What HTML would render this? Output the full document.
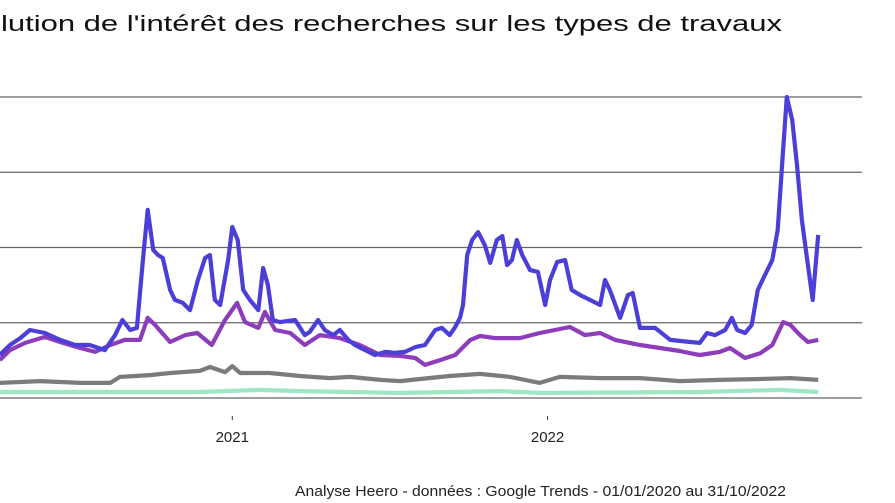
<!DOCTYPE html>
<html><head><meta charset="utf-8">
<style>
html,body{margin:0;padding:0;background:#fff;}
svg{display:block;font-family:"Liberation Sans",Arial,sans-serif;}
</style></head>
<body>
<svg id="chart" width="895" height="503" viewBox="0 0 895 503">
  <rect width="895" height="503" fill="#fff"/>
  <text x="1" y="31" font-size="22" fill="#111" textLength="781" lengthAdjust="spacingAndGlyphs">lution de l'intérêt des recherches sur les types de travaux</text>
  <g id="grid"></g>
  <g id="xaxis"></g>
  <g id="series"></g>
  <text x="295" y="496" font-size="15" fill="#222" textLength="491" lengthAdjust="spacingAndGlyphs">Analyse Heero - données :  Google Trends - 01/01/2020 au 31/10/2022</text>
</svg>
<script>
// weeks since 2020-01-01, values 0-100
const blueWeeks = [13.7,15.4,17.1,18.7,21.2,23.7,26.2,28.6,31.1,32.8,34,35.3,36.4,37.4,38.2,39.1,39.9,40.7,41.9,42.7,44,45.2,46.5,47.7,48.5,49.3,50.2,51.5,52.2,53.1,54,55.1,56.5,57.3,58.1,58.9,60.1,62.6,64.2,65,66.4,67.5,68.9,70,71.4,72.5,74.2,75.8,77.5,79.1,80.8,82.5,84.1,85.8,86.9,88.2,89.1,89.9,90.4,91.1,91.9,92.9,94,94.9,96,96.9,97.7,98.5,99.3,100.2,101.5,102.8,104,104.8,106,107.3,108.4,109.8,111.4,113.1,113.9,114.7,116.4,117.7,118.5,119.7,122.2,124.7,128,129.6,130.8,132.1,133.8,134.9,135.8,137.1,138.2,139.2,140.4,141.6,142.5,143.4,144,144.9,145.7,146.5,147.5,148.3,149.2];
const blueValues = [14.3,17.6,19.9,22.6,21.6,19.3,17.6,17.6,15.9,20.9,25.9,22.6,23.3,45.8,62.5,49.2,47.5,46.5,35.9,32.6,31.6,29.2,39.2,46.5,47.5,32.6,30.9,45.8,56.8,52.5,35.9,32.6,29.2,43.2,37.5,25.9,25.2,25.9,20.9,21.9,25.9,22.6,20.9,22.6,19.3,17.6,15.9,14.3,15.3,15,15.3,16.9,17.6,22.6,23.3,20.9,23.6,26.6,30.9,47.5,52.5,55.1,50.8,44.9,52.5,53.8,44.2,45.8,52.5,47.5,42.5,41.9,30.9,39.2,45.2,45.8,35.9,34.2,32.6,30.9,39.2,35.9,26.6,34.2,34.9,23.3,23.3,19.3,18.6,18.3,21.6,20.9,22.6,26.6,22.6,21.6,24.3,35.9,40.9,45.8,55.8,82.4,100,92.4,77.4,59.1,44.2,32.6,54.2];
const purpleWeeks = [13.7,15.4,17.9,21.2,23.7,27,29.5,32,34.4,36.9,38.2,39.4,41.9,44.4,46.4,48.8,51,53,54.3,56.5,57.6,59.3,61.8,64.2,66.7,70,73.3,76.7,80,82.5,84.1,86.6,89.1,91.6,93.2,95.7,99.8,103.1,105.6,108.1,110.6,113.1,115.6,119.7,123,126.3,128,129.6,132.9,134.6,137.1,139.6,141.6,143.4,144.6,146.2,147.5,149.2];
const purpleValues = [12.6,15.9,18.3,20.3,18.6,16.6,15.3,17.6,19.3,19.3,26.6,24.3,18.6,20.9,21.6,17.6,25.9,31.6,25.2,23.3,28.6,22.6,21.6,17.6,20.9,19.9,17.6,14.3,14,13.3,11,12.6,14.3,19.3,20.6,19.9,19.9,21.6,22.6,23.6,20.9,21.6,19.3,17.6,16.6,15.6,14.9,14.3,15.3,16.6,13.3,14.9,17.6,25.2,24.3,20.9,18.6,19.3];
const grayWeeks = [13.7,20.4,27,32,33.6,38.6,41.9,46.8,48.5,51,52.2,53.5,58.4,63.4,68.4,71.7,76.7,80,83.3,88.2,93.2,98.2,103.1,106.4,113.1,119.7,126.3,132.9,139.6,144.6,149.2];
const grayValues = [5,5.6,5,5,7,7.6,8.3,9,10.3,8.6,10.6,8.3,8.3,7.3,6.6,7,6,5.6,6.3,7.3,8,7,5,7,6.6,6.6,5.6,6,6.3,6.6,6];
const greenWeeks = [13.7,46.8,56.8,63.4,80,96.5,103.1,129.6,142.8,149.2];
const greenValues = [2,2,2.7,2.3,1.7,2.3,1.7,2,2.7,2];
const yTicks = [0,25,50,75,100];
const xTickWeeks = [52.2,104.4];
const xTickLabels = ["2021","2022"];

const NS="http://www.w3.org/2000/svg";
const X0=-83, XW=6.04, Y0=398, YK=3.01, XR=862;
function xs(w){return X0+w*XW;}
function ys(v){return Y0-v*YK;}
const grid=document.getElementById('grid');
yTicks.forEach(t=>{
  const l=document.createElementNS(NS,'line');
  
  
  l.setAttribute('x1',0);l.setAttribute('x2',XR);
  l.setAttribute('y1',ys(t));l.setAttribute('y2',ys(t));
  l.setAttribute('stroke','#666');l.setAttribute('stroke-width','1.3');
  grid.appendChild(l);
});
const xa=document.getElementById('xaxis');
xTickWeeks.forEach((w,i)=>{
  const t=document.createElementNS(NS,'line');
  
  
  t.setAttribute('x1',xs(w));t.setAttribute('x2',xs(w));
  t.setAttribute('y1',Y0+18);t.setAttribute('y2',Y0+22);
  t.setAttribute('stroke','#333');t.setAttribute('stroke-width','1');
  xa.appendChild(t);
  const tx=document.createElementNS(NS,'text');
  
  
  tx.setAttribute('x',xs(w));tx.setAttribute('y',Y0+44);
  tx.setAttribute('text-anchor','middle');tx.setAttribute('font-size','15');
  tx.setAttribute('fill','#222');
  tx.textContent=xTickLabels[i];
  xa.appendChild(tx);
});
const sg=document.getElementById('series');
function drawLine(weeks,vals,color,name){
  const p=document.createElementNS(NS,'path');
  
  
  p.setAttribute('d',weeks.map((w,i)=>(i?'L':'M')+xs(w).toFixed(1)+','+ys(vals[i]).toFixed(1)).join(' '));
  p.setAttribute('fill','none');p.setAttribute('stroke',color);
  p.setAttribute('stroke-width','4.2');p.setAttribute('stroke-linejoin','round');
  sg.appendChild(p);
}
drawLine(greenWeeks,greenValues,'#9fe6c4','series-green');
drawLine(grayWeeks,grayValues,'#7b7b7b','series-gray');
drawLine(purpleWeeks,purpleValues,'#8d3dba','series-purple');
drawLine(blueWeeks,blueValues,'#4b3fd8','series-blue');
</script>
</body></html>
